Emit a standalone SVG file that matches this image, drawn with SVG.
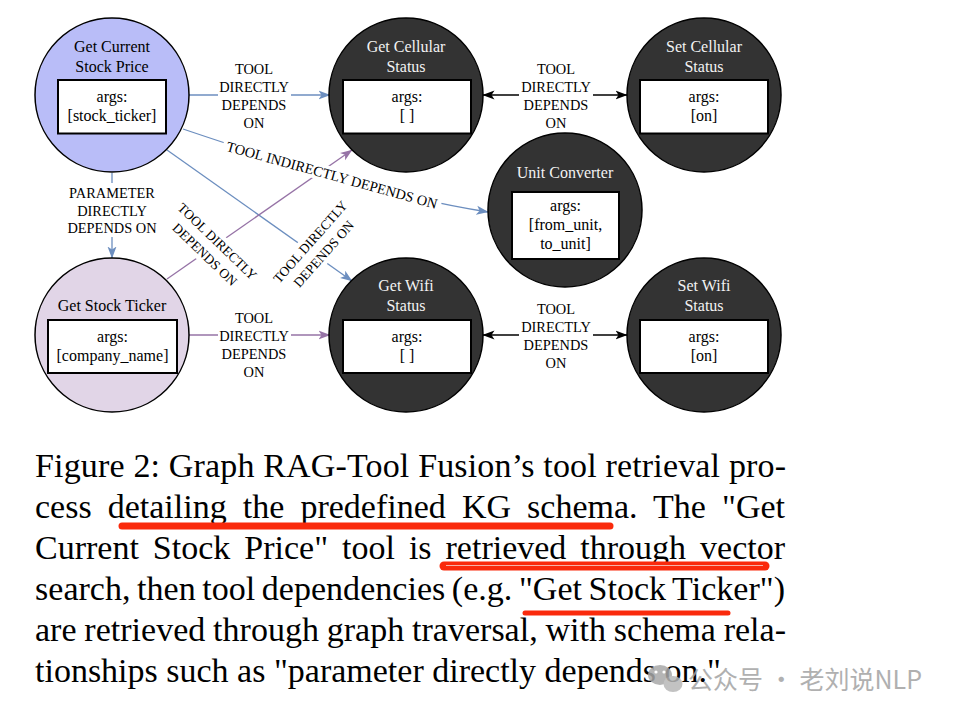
<svg xmlns="http://www.w3.org/2000/svg" width="954" height="718" viewBox="0 0 954 718">
<defs>
<marker id="arrBlue" viewBox="0 0 12 10" refX="11.5" refY="5" markerWidth="12" markerHeight="10" markerUnits="userSpaceOnUse" orient="auto"><path d="M0,0.5 L12,5 L0,9.5 L3,5 Z" fill="#6c8ebf"/></marker>
<marker id="arrPurple" viewBox="0 0 12 10" refX="11.5" refY="5" markerWidth="12" markerHeight="10" markerUnits="userSpaceOnUse" orient="auto"><path d="M0,0.5 L12,5 L0,9.5 L3,5 Z" fill="#9673a6"/></marker>
<marker id="arrBlack" viewBox="0 0 12 10" refX="11.5" refY="5" markerWidth="12" markerHeight="10" markerUnits="userSpaceOnUse" orient="auto-start-reverse"><path d="M0,0.5 L12,5 L0,9.5 L3,5 Z" fill="#000"/></marker>
</defs>
<style>
.t{font-family:"Liberation Serif","Times New Roman",serif;}
.title{font-size:16px;text-anchor:middle;}
.lt{fill:#f2f2f2;}
.dk{fill:#000;}
.arg{font-size:16px;text-anchor:middle;fill:#000;}
.lab{font-size:14.4px;text-anchor:middle;fill:#000;}
.rlab{font-size:13.5px;text-anchor:middle;fill:#000;}
.bg{fill:#fff;}
.box{fill:#fff;stroke:#000;stroke-width:2;}
.circ{stroke:#000;stroke-width:1.5;}
.darkc{fill:#333333;}
.e{fill:none;stroke-width:1.3;}
.blue{stroke:#6c8ebf;}
.purple{stroke:#9673a6;}
.black{stroke:#000;}
.cap{font-size:34px;fill:#000;}
.ul{stroke:#fa2a0c;stroke-linecap:round;fill:none;}
</style>
<rect width="954" height="718" fill="#fff"/>

<g id="connectors">
  <path class="e blue" d="M189,95 L330,95" marker-end="url(#arrBlue)"/>
  <path class="e black" d="M483,95 L627,95" marker-start="url(#arrBlack)" marker-end="url(#arrBlack)"/>
  <path class="e purple" d="M189,335 L330,335" marker-end="url(#arrPurple)"/>
  <path class="e black" d="M483,335 L627,335" marker-start="url(#arrBlack)" marker-end="url(#arrBlack)"/>
  <path class="e blue" d="M112,173 L112,258" marker-end="url(#arrBlue)"/>
  <path class="e blue" d="M183,129 C260,155 380,195 488,212" marker-end="url(#arrBlue)"/>
  <path class="e blue" d="M167,150 L352,281" marker-end="url(#arrBlue)"/>
  <path class="e purple" d="M167,279 L352,150" marker-end="url(#arrPurple)"/>

  <g class="t">
    <rect class="bg" x="218" y="60" width="73" height="72"/>
    <text class="lab" x="254" y="74">TOOL</text>
    <text class="lab" x="254" y="92">DIRECTLY</text>
    <text class="lab" x="254" y="110">DEPENDS</text>
    <text class="lab" x="254" y="128">ON</text>

    <rect class="bg" x="519" y="60" width="74" height="72"/>
    <text class="lab" x="556" y="74">TOOL</text>
    <text class="lab" x="556" y="92">DIRECTLY</text>
    <text class="lab" x="556" y="110">DEPENDS</text>
    <text class="lab" x="556" y="128">ON</text>

    <rect class="bg" x="218" y="309" width="73" height="72"/>
    <text class="lab" x="254" y="323">TOOL</text>
    <text class="lab" x="254" y="341">DIRECTLY</text>
    <text class="lab" x="254" y="359">DEPENDS</text>
    <text class="lab" x="254" y="377">ON</text>

    <rect class="bg" x="519" y="300" width="74" height="72"/>
    <text class="lab" x="556" y="314">TOOL</text>
    <text class="lab" x="556" y="332">DIRECTLY</text>
    <text class="lab" x="556" y="350">DEPENDS</text>
    <text class="lab" x="556" y="368">ON</text>

    <g transform="translate(332,175) rotate(15.5)">
      <rect class="bg" x="-113" y="-8" width="226" height="16"/>
      <text class="lab" x="0" y="5">TOOL INDIRECTLY DEPENDS ON</text>
    </g>

    <g transform="translate(317,248) rotate(-48.5)">
      <rect class="bg" x="-58" y="-18" width="116" height="36"/>
      <text class="rlab" x="0" y="-4.5">TOOL DIRECTLY</text>
      <text class="rlab" x="0" y="13.5">DEPENDS ON</text>
    </g>

    <g transform="translate(211,248) rotate(44)">
      <rect class="bg" x="-58" y="-18" width="116" height="36"/>
      <text class="rlab" x="0" y="-4.5">TOOL DIRECTLY</text>
      <text class="rlab" x="0" y="13.5">DEPENDS ON</text>
    </g>

    <rect class="bg" x="68" y="183" width="89" height="54"/>
    <text class="lab" x="112" y="198">PARAMETER</text>
    <text class="lab" x="112" y="215.5">DIRECTLY</text>
    <text class="lab" x="112" y="233">DEPENDS ON</text>
  </g>
</g>

<g id="node-get-current-stock-price" class="t">
  <circle class="circ" cx="112" cy="95" r="77" fill="#b9bdf8"/>
  <text class="title dk" x="112" y="51.5">Get Current</text>
  <text class="title dk" x="112" y="71.5">Stock Price</text>
  <rect class="box" x="58" y="80" width="108" height="53.5"/>
  <text class="arg" x="112" y="102">args:</text>
  <text class="arg" x="112" y="121">[stock_ticker]</text>
</g>

<g id="node-get-cellular-status" class="t">
  <circle class="circ darkc" cx="406" cy="95" r="77"/>
  <text class="title lt" x="406" y="51.5">Get Cellular</text>
  <text class="title lt" x="406" y="71.5">Status</text>
  <rect class="box" x="343" y="80" width="128" height="53.5"/>
  <text class="arg" x="407" y="102">args:</text>
  <text class="arg" x="407" y="121">[ ]</text>
</g>

<g id="node-set-cellular-status" class="t">
  <circle class="circ darkc" cx="704" cy="95" r="77"/>
  <text class="title lt" x="704" y="51.5">Set Cellular</text>
  <text class="title lt" x="704" y="71.5">Status</text>
  <rect class="box" x="640" y="80" width="128" height="53.5"/>
  <text class="arg" x="704" y="102">args:</text>
  <text class="arg" x="704" y="121">[on]</text>
</g>

<g id="node-unit-converter" class="t">
  <circle class="circ darkc" cx="565" cy="210" r="77"/>
  <text class="title lt" x="565" y="178">Unit Converter</text>
  <rect class="box" x="512" y="192" width="107" height="67"/>
  <text class="arg" x="565.5" y="211">args:</text>
  <text class="arg" x="565.5" y="230">[from_unit,</text>
  <text class="arg" x="565.5" y="249">to_unit]</text>
</g>

<g id="node-get-stock-ticker" class="t">
  <circle class="circ" cx="112" cy="335" r="77" fill="#e1d5e7"/>
  <text class="title dk" x="112" y="311">Get Stock Ticker</text>
  <rect class="box" x="48" y="320" width="129" height="53"/>
  <text class="arg" x="112.5" y="342">args:</text>
  <text class="arg" x="112.5" y="361">[company_name]</text>
</g>

<g id="node-get-wifi-status" class="t">
  <circle class="circ darkc" cx="406" cy="335" r="77"/>
  <text class="title lt" x="406" y="291">Get Wifi</text>
  <text class="title lt" x="406" y="311">Status</text>
  <rect class="box" x="343" y="320" width="128" height="53"/>
  <text class="arg" x="407" y="342">args:</text>
  <text class="arg" x="407" y="361">[ ]</text>
</g>

<g id="node-set-wifi-status" class="t">
  <circle class="circ darkc" cx="704" cy="335" r="77"/>
  <text class="title lt" x="704" y="291">Set Wifi</text>
  <text class="title lt" x="704" y="311">Status</text>
  <rect class="box" x="640" y="320" width="128" height="53"/>
  <text class="arg" x="704" y="342">args:</text>
  <text class="arg" x="704" y="361">[on]</text>
</g>

<g id="caption" class="t">
  <text class="cap" x="35" y="477" textLength="751" lengthAdjust="spacing">Figure 2: Graph RAG-Tool Fusion’s tool retrieval pro-</text>
  <text class="cap" x="35" y="518" word-spacing="7.6" textLength="750" lengthAdjust="spacing">cess detailing the predefined KG schema. The "Get</text>
  <text class="cap" x="35" y="559" word-spacing="5.5" textLength="750" lengthAdjust="spacing">Current Stock Price" tool is retrieved through vector</text>
  <text class="cap" x="35" y="600" word-spacing="-2" textLength="750" lengthAdjust="spacing">search, then tool dependencies (e.g. "Get Stock Ticker")</text>
  <text class="cap" x="35" y="641" word-spacing="-0.7" textLength="751" lengthAdjust="spacing">are retrieved through graph traversal, with schema rela-</text>
  <text class="cap" x="35" y="682">tionships such as "parameter directly depends on."</text>
</g>

<g id="underlines">
  <path class="ul" d="M122,526 L610,526" stroke-width="7"/>
  <path class="ul" d="M444,566 L765,566" stroke-width="9"/>
  <path d="M446,565.5 L763,565.5" stroke="#f4b2a8" stroke-width="1.2"/>
  <path class="ul" d="M525,613 L728,613" stroke-width="5"/>
</g>

<g id="watermark" opacity="0.85">
  <ellipse cx="660" cy="675" rx="12" ry="10" fill="#a9a9a9"/>
  <ellipse cx="673" cy="684" rx="9.5" ry="8" fill="#b8b8b8"/>
  <circle cx="656" cy="672" r="1.6" fill="#fff"/>
  <circle cx="664" cy="672" r="1.6" fill="#fff"/>
  <text x="688" y="689" font-family="'Noto Sans CJK SC','Noto Sans',sans-serif" font-size="25" fill="#a3a3a3" textLength="234" lengthAdjust="spacing">公众号 · 老刘说NLP</text>
</g>
</svg>
